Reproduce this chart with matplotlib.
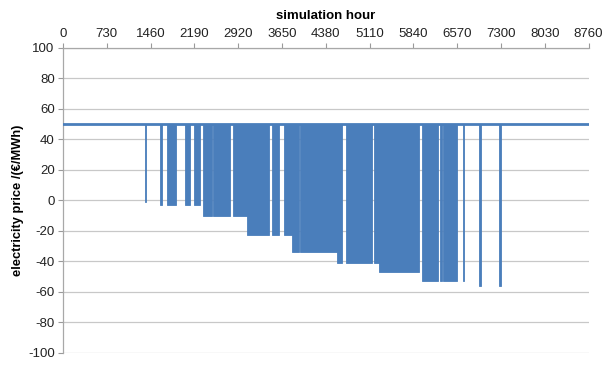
import matplotlib
matplotlib.use("Agg")
import matplotlib.pyplot as plt

plt.rcParams['font.family'] = ['Liberation Sans', 'DejaVu Sans']
plt.rcParams['axes.unicode_minus'] = False

# hourly price is 50 €/MWh except in these negative-price periods
base_price = 50
dip_start = [1365, 1625, 1738, 2033, 2178, 2338, 2492, 2828, 3060, 3488, 3683, 3811, 3945,
             4561, 4717, 5183, 5272, 5978, 6283, 6338, 6665, 6935, 7273]
dip_end = [1390, 1650, 1878, 2117, 2283, 2485, 2783, 3060, 3438, 3600, 3811, 3935, 4561,
           4645, 5145, 5272, 5938, 6255, 6322, 6561, 6690, 6960, 7298]
dip_price = [-1, -3, -3, -3, -3, -10, -10, -10, -23, -23, -23, -34, -34,
             -41, -41, -41, -47, -53, -53, -53, -53, -56, -56]

x_ticks = [0, 730, 1460, 2190, 2920, 3650, 4380, 5110, 5840, 6570, 7300, 8030, 8760]
y_ticks = [-100, -80, -60, -40, -20, 0, 20, 40, 60, 80, 100]

blue = '#4a7ebb'

fig = plt.figure(figsize=(6.04, 3.65), dpi=100)
ax = fig.add_axes([0.1043, 0.0337, 0.8702, 0.8348])

# negative price periods as filled blocks hanging from the base price
widths = [e - s for s, e in zip(dip_start, dip_end)]
heights = [base_price - p for p in dip_price]
ax.bar(dip_start, heights, width=widths, bottom=dip_price, align='edge',
       color=blue, edgecolor=blue, linewidth=0.6, zorder=3)
ax.plot([x_ticks[0], x_ticks[-1]], [base_price, base_price], color=blue, lw=2, zorder=4)

ax.set_xlim(x_ticks[0], x_ticks[-1])
ax.set_ylim(y_ticks[0], y_ticks[-1])
ax.set_xticks(x_ticks)
ax.set_yticks(y_ticks)

ax.xaxis.tick_top()
ax.xaxis.set_label_position('top')
ax.set_xlabel('simulation hour', fontsize=9.5, fontweight='bold', labelpad=6)
ax.set_ylabel('electricity price /(€/MWh)', fontsize=9.3, fontweight='bold', labelpad=3)

ax.tick_params(axis='both', labelsize=9.5, colors='#9a9a9a', labelcolor='#222222',
               length=3.5, width=0.8, pad=2.5)

ax.grid(axis='y', color='#c8c8c8', lw=0.9, zorder=0)
ax.set_axisbelow(True)
for side in ['bottom', 'right']:
    ax.spines[side].set_visible(False)
for side in ['top', 'left']:
    ax.spines[side].set_color('#a8a8a8')
    ax.spines[side].set_linewidth(0.9)

fig.savefig('out.png', dpi=100)
